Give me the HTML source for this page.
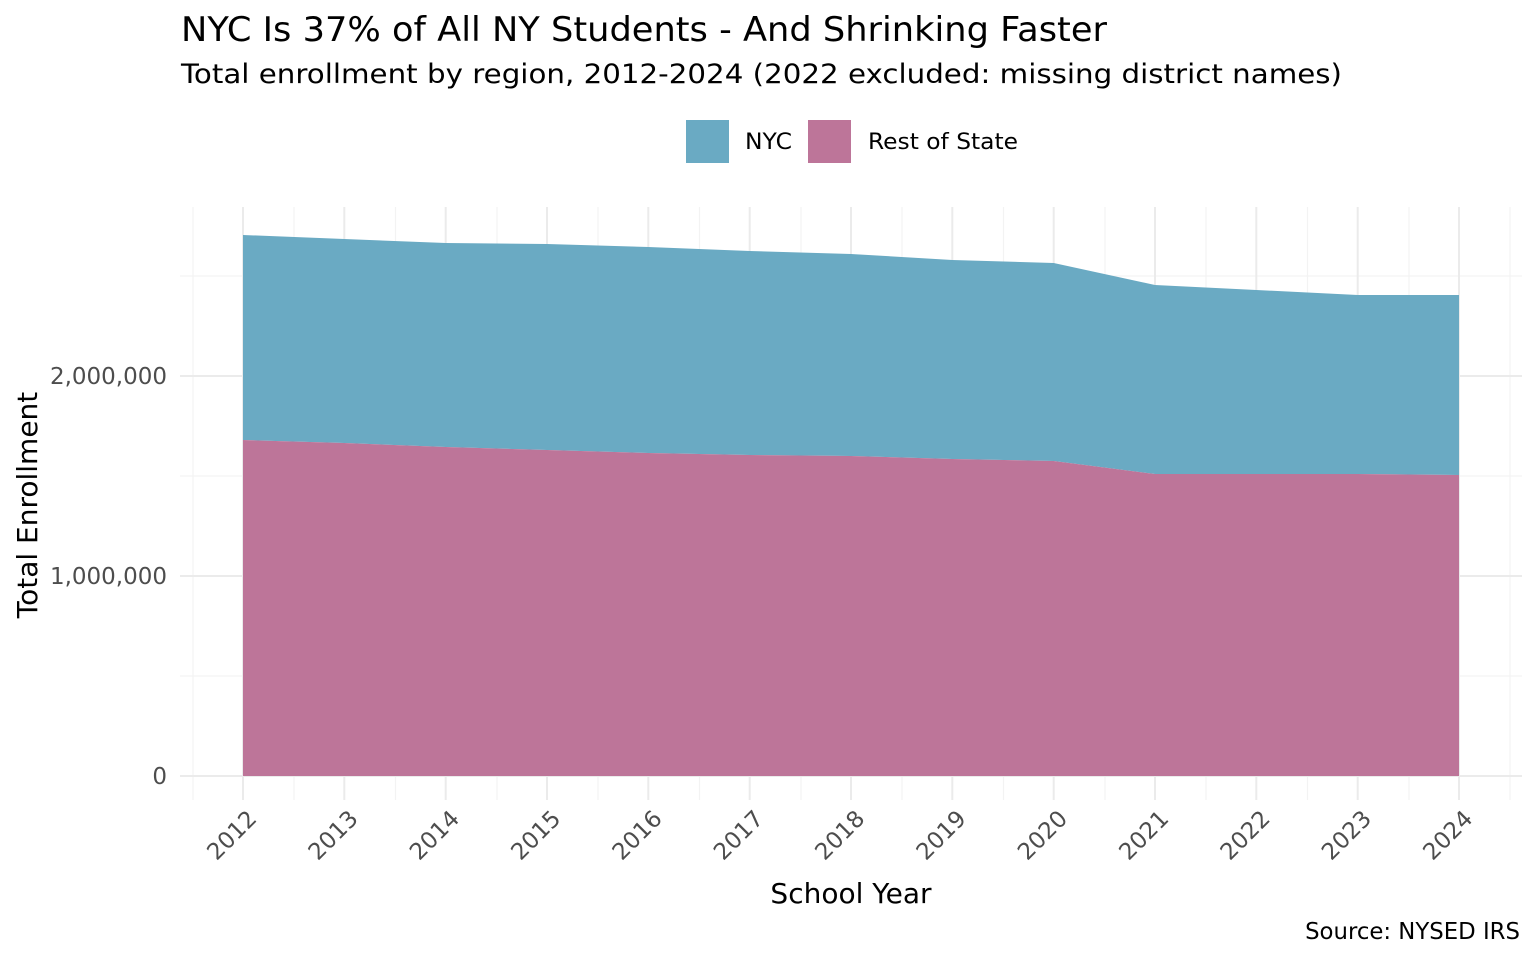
<!DOCTYPE html>
<html><head><meta charset="utf-8"><style>
body{margin:0;background:#fff;}
svg text{font-family:"DejaVu Sans","Liberation Sans",sans-serif;}
</style></head><body>
<svg width="1536" height="960" viewBox="0 0 1536 960" xmlns="http://www.w3.org/2000/svg">
<rect width="1536" height="960" fill="#fff"/>
<text x="181" y="41" font-size="34" fill="#000" textLength="926" lengthAdjust="spacingAndGlyphs">NYC Is 37% of All NY Students - And Shrinking Faster</text>
<text x="181" y="83" font-size="27" fill="#000" textLength="1161" lengthAdjust="spacingAndGlyphs">Total enrollment by region, 2012-2024 (2022 excluded: missing district names)</text>
<rect x="686" y="120" width="43" height="43" fill="#6aaac3"/>
<text x="745" y="149" font-size="22" fill="#000" textLength="47" lengthAdjust="spacingAndGlyphs">NYC</text>
<rect x="808" y="120" width="43" height="43" fill="#bd7599"/>
<text x="868" y="149" font-size="22" fill="#000" textLength="150" lengthAdjust="spacingAndGlyphs">Rest of State</text>
<g stroke="#f3f3f3" stroke-width="1.2">
<line x1="180" x2="1522" y1="276" y2="276"/><line x1="180" x2="1522" y1="476" y2="476"/><line x1="180" x2="1522" y1="676" y2="676"/>
<line x1="193" x2="193" y1="207" y2="800"/><line x1="294" x2="294" y1="207" y2="800"/><line x1="395.5" x2="395.5" y1="207" y2="800"/><line x1="497" x2="497" y1="207" y2="800"/><line x1="598" x2="598" y1="207" y2="800"/><line x1="699.5" x2="699.5" y1="207" y2="800"/><line x1="801" x2="801" y1="207" y2="800"/><line x1="902" x2="902" y1="207" y2="800"/><line x1="1003.5" x2="1003.5" y1="207" y2="800"/><line x1="1105" x2="1105" y1="207" y2="800"/><line x1="1206" x2="1206" y1="207" y2="800"/><line x1="1307.5" x2="1307.5" y1="207" y2="800"/><line x1="1409" x2="1409" y1="207" y2="800"/><line x1="1510" x2="1510" y1="207" y2="800"/>
</g>
<g stroke="#ebebeb" stroke-width="2">
<line x1="180" x2="1522" y1="376" y2="376"/><line x1="180" x2="1522" y1="576" y2="576"/><line x1="180" x2="1522" y1="776" y2="776"/>
<line x1="243" x2="243" y1="207" y2="800"/><line x1="344.3" x2="344.3" y1="207" y2="800"/><line x1="445.7" x2="445.7" y1="207" y2="800"/><line x1="547" x2="547" y1="207" y2="800"/><line x1="648.3" x2="648.3" y1="207" y2="800"/><line x1="749.7" x2="749.7" y1="207" y2="800"/><line x1="851" x2="851" y1="207" y2="800"/><line x1="952.3" x2="952.3" y1="207" y2="800"/><line x1="1053.7" x2="1053.7" y1="207" y2="800"/><line x1="1155" x2="1155" y1="207" y2="800"/><line x1="1256.3" x2="1256.3" y1="207" y2="800"/><line x1="1357.7" x2="1357.7" y1="207" y2="800"/><line x1="1459" x2="1459" y1="207" y2="800"/>
</g>
<polygon fill="#6aaac3" points="243,235 344.3,239 445.7,243 547,244 648.3,247 749.7,251 851,254 952.3,260 1053.7,263 1155,285 1256.3,290 1357.7,295 1459,295 1459,475 1357.7,474 1256.3,474 1155,474 1053.7,461 952.3,459 851,456 749.7,455 648.3,453 547,450 445.7,447 344.3,443 243,440"/>
<polygon fill="#bd7599" points="243,440 344.3,443 445.7,447 547,450 648.3,453 749.7,455 851,456 952.3,459 1053.7,461 1155,474 1256.3,474 1357.7,474 1459,475 1459,776 243,776"/>
<g font-size="23" fill="#4d4d4d" text-anchor="end">
<text x="167" y="384">2,000,000</text><text x="167" y="584">1,000,000</text><text x="167" y="784">0</text>
</g>
<g font-size="23" fill="#4d4d4d" text-anchor="end">
<text transform="translate(258,820) rotate(-45)">2012</text>
<text transform="translate(359.3,820) rotate(-45)">2013</text>
<text transform="translate(460.7,820) rotate(-45)">2014</text>
<text transform="translate(562,820) rotate(-45)">2015</text>
<text transform="translate(663.3,820) rotate(-45)">2016</text>
<text transform="translate(764.7,820) rotate(-45)">2017</text>
<text transform="translate(866,820) rotate(-45)">2018</text>
<text transform="translate(967.3,820) rotate(-45)">2019</text>
<text transform="translate(1068.7,820) rotate(-45)">2020</text>
<text transform="translate(1170,820) rotate(-45)">2021</text>
<text transform="translate(1271.3,820) rotate(-45)">2022</text>
<text transform="translate(1372.7,820) rotate(-45)">2023</text>
<text transform="translate(1474,820) rotate(-45)">2024</text>
</g>
<text x="851" y="903" font-size="28" text-anchor="middle" fill="#000">School Year</text>
<text transform="translate(37,505) rotate(-90)" font-size="28" text-anchor="middle" fill="#000">Total Enrollment</text>
<text x="1520" y="939" font-size="22.8" text-anchor="end" fill="#000">Source: NYSED IRS</text>
</svg>
</body></html>
